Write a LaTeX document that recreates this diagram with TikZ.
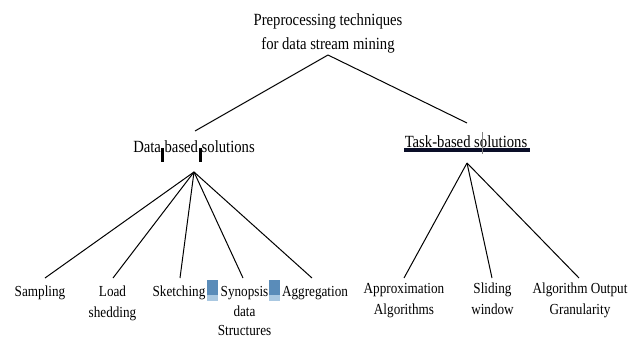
\documentclass[tikz,border=0pt]{standalone}
\usepackage{fontspec}
\setmainfont[FakeStretch=0.86]{Liberation Serif}
\definecolor{markblue}{RGB}{90,140,185}
\definecolor{markpale}{RGB}{170,200,225}
\definecolor{barnavy}{RGB}{10,14,40}

\begin{document}
\begin{tikzpicture}[x=0.75pt,y=-0.75pt,
  bigtext/.style={align=center,inner sep=0pt,anchor=north,font=\fontsize{12.8}{18}\selectfont},
  leaftext/.style={align=center,inner sep=0pt,anchor=north,font=\fontsize{11.5}{14.8}\selectfont},
  wideleaf/.style={leaftext,font=\fontsize{11.5}{15.6}\selectfont},
  link/.style={line width=0.75pt}]

\useasboundingbox (0,0) rectangle (641,338);

%root
\node[bigtext] (root) at (328,13) {Preprocessing techniques\\for data stream mining};
\coordinate (roottip) at (328,55);
\coordinate (datatop) at (195,131);
\coordinate (tasktop) at (467,123);
\path [link] (roottip) edge (datatop);
\path [link] (roottip) edge (tasktop);

%second level
\node[bigtext] (data) at (194,140) {Data based solutions};
\node[bigtext] (task) at (466,135) {Task-based solutions};
\fill[black] (161,148) rectangle (164,162);
\fill[black] (199,148) rectangle (202,162);
\fill[barnavy] (404,148) rectangle (530,152);
\draw[gray,line width=0.8pt] (482.5,132) -- (482.5,154);

%data based leaves
\coordinate (datahub) at (194,172);
\coordinate (samplingtop) at (45,278);
\coordinate (loadtop) at (113,278);
\coordinate (sketchtop) at (180,278);
\coordinate (synopsistop) at (243,278);
\coordinate (aggrtop) at (312,278);
\path [link] (datahub) edge (samplingtop);
\path [link] (datahub) edge (loadtop);
\path [link] (datahub) edge (sketchtop);
\path [link] (datahub) edge (synopsistop);
\path [link] (datahub) edge (aggrtop);

\node[leaftext] (sampling) at (40,286) {Sampling};
\node[wideleaf] (load) at (112.5,286) {Load\\shedding};
\node[leaftext] (sketch) at (179,286) {Sketching};
\node[leaftext] (synopsis) at (244.5,286) {Synopsis\\data\\Structures};
\node[leaftext] (aggr) at (315,286) {Aggregation};
\fill[markblue] (207,280) rectangle (218,295);
\fill[markpale] (207,295) rectangle (218,301);
\fill[markblue] (269,280) rectangle (280,295);
\fill[markpale] (269,295) rectangle (280,301);

%task based leaves
\coordinate (taskhub) at (467,163);
\coordinate (approxtop) at (404,278);
\coordinate (slidetop) at (492,278);
\coordinate (outputtop) at (579,278);
\path [link] (taskhub) edge (approxtop);
\path [link] (taskhub) edge (slidetop);
\path [link] (taskhub) edge (outputtop);

\node[wideleaf] (approx) at (404,283) {Approximation\\Algorithms};
\node[wideleaf] (slide) at (492.5,283) {Sliding\\window};
\node[wideleaf] (output) at (580,283) {Algorithm Output\\Granularity};
\end{tikzpicture}
\end{document}
